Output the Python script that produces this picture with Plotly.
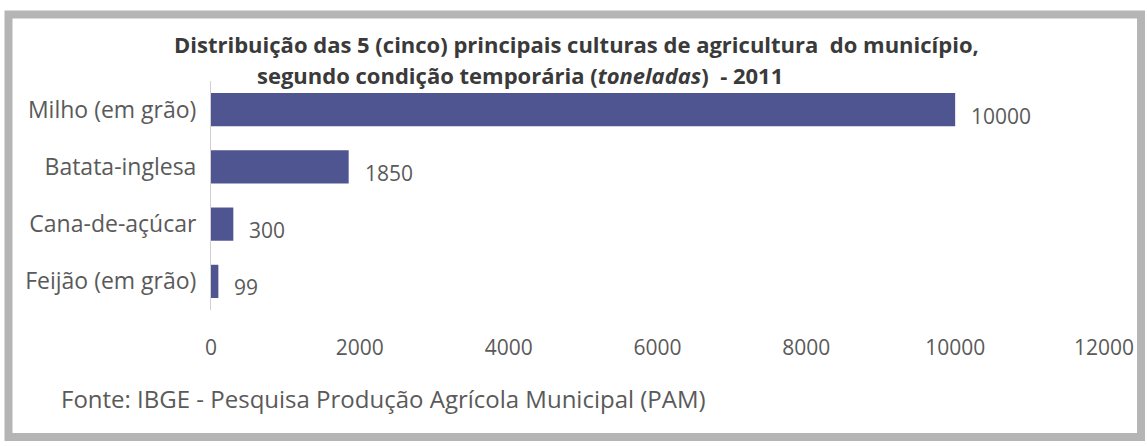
import plotly.graph_objects as go

categories = ["Milho (em grão)", "Batata-inglesa", "Cana-de-açúcar", "Feijão (em grão)"]
values = [10000, 1850, 300, 99]
x_ticks = [0, 2000, 4000, 6000, 8000, 10000, 12000]
x_tick_text = ["0", "2000", "4000", "6000", "8000", "10000", "12000"]

W, H = 1147, 446
L, R, T, B = 211, 1104, 81, 310

def px(x):
    return (x - L) / (R - L)

def py(y):
    return (B - y) / (B - T)

FONT = "Open Sans"
TXT = "#5a5a5a"

fig = go.Figure(go.Bar(
    x=values, y=categories, orientation="h",
    marker=dict(color="#4e5590", line=dict(width=0)),
    width=0.58,
))

for c, v in zip(categories, values):
    fig.add_annotation(x=v, y=c, xref="x", yref="y", text=str(v), showarrow=False,
                       xanchor="left", xshift=14, yshift=-6,
                       font=dict(family=FONT, size=21, color=TXT))

fig.add_annotation(x=px(576), y=py(44), xref="paper", yref="paper",
                   text="<b>Distribuição das 5 (cinco) principais culturas de agricultura  do município,</b>",
                   showarrow=False, xanchor="center", yanchor="middle",
                   font=dict(family=FONT, size=22, color="#3a3a3a"))
fig.add_annotation(x=px(520), y=py(75), xref="paper", yref="paper",
                   text="<b>segundo condição temporária (<i>toneladas</i>)  - 2011</b>",
                   showarrow=False, xanchor="center", yanchor="middle",
                   font=dict(family=FONT, size=22, color="#3a3a3a"))
fig.add_annotation(x=px(59), y=py(398), xref="paper", yref="paper",
                   text="Fonte: IBGE - Pesquisa Produção Agrícola Municipal (PAM)",
                   showarrow=False, xanchor="left", yanchor="middle",
                   font=dict(family=FONT, size=24, color=TXT))

fig.add_shape(type="rect", xref="paper", yref="paper",
              x0=px(8.5), x1=px(1141), y0=py(14.5), y1=py(437),
              line=dict(color="#b5b5b5", width=8), layer="below")

fig.update_layout(
    width=W, height=H,
    margin=dict(l=L, r=W - R, t=T, b=H - B),
    paper_bgcolor="white", plot_bgcolor="white",
    showlegend=False,
    bargap=0.42,
    xaxis=dict(range=[0, 12000], tickvals=x_ticks, ticktext=x_tick_text,
               showgrid=False, zeroline=False,
               showline=False, ticks="", ticklabelstandoff=23,
               tickfont=dict(family=FONT, size=21, color=TXT)),
    yaxis=dict(categoryorder="array", categoryarray=categories[::-1],
               showgrid=False, zeroline=False, showline=True, linecolor="#d0d0d0",
               linewidth=1, ticks="", ticklabelstandoff=9,
               tickfont=dict(family=FONT, size=23, color=TXT)),
)

fig.write_html("out.html", config={"displayModeBar": False},
               post_script="document.body.style.margin='0';")
